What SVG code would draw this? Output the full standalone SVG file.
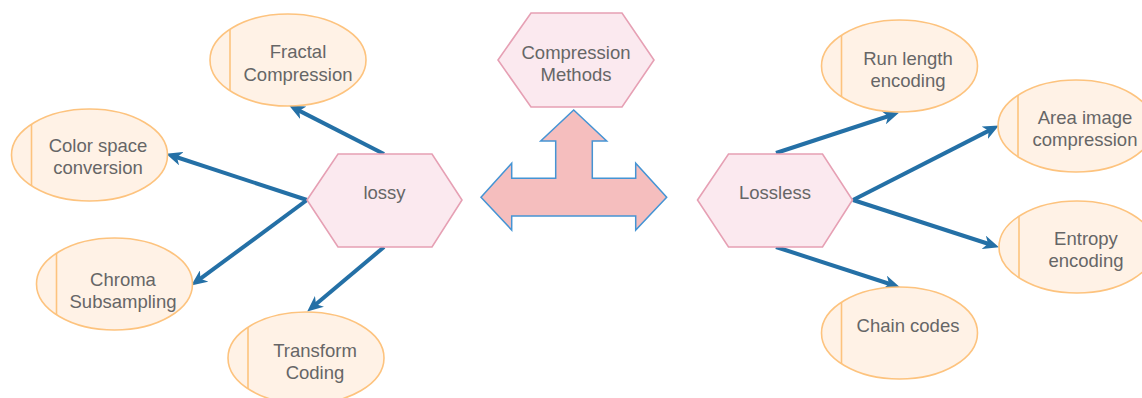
<svg xmlns="http://www.w3.org/2000/svg" width="1142" height="398" viewBox="0 0 1142 398">
<style>
.ell{fill:#FFF2E6;stroke:#FDC37E;stroke-width:1.6}
.chord{stroke:#FDC37E;stroke-width:1.6;fill:none}
.hex{fill:#FBE9EF;stroke:#E6A0B4;stroke-width:1.6}
.t{font-family:"Liberation Sans",Arial,sans-serif;font-size:18.5px;fill:#666666;text-anchor:middle}
.conn{stroke:#2470A6;stroke-width:4;fill:none;marker-end:url(#ah)}
</style>
<defs>
<marker id="ah" markerUnits="userSpaceOnUse" markerWidth="16" markerHeight="14" viewBox="0 0 16 14" refX="7" refY="7" orient="auto">
<path d="M0,0 L16,7 L0,14 L4.5,7 z" fill="#2470A6"/>
</marker>
</defs>
<rect width="1142" height="398" fill="#FFFFFF"/>

<g id="connectors">
<line class="conn" x1="384" y1="154" x2="297.1" y2="109.6"/>
<line class="conn" x1="307" y1="200" x2="174.6" y2="156.5"/>
<line class="conn" x1="307" y1="200" x2="198.4" y2="280.2"/>
<line class="conn" x1="384" y1="247" x2="314.1" y2="305.8"/>
<line class="conn" x1="776" y1="153" x2="890.4" y2="115.5"/>
<line class="conn" x1="853" y1="200" x2="990.9" y2="129.6"/>
<line class="conn" x1="853" y1="200" x2="990.4" y2="244.5"/>
<line class="conn" x1="776" y1="247" x2="891.4" y2="284.5"/>
</g>

<g id="big-arrow">
<path d="M573.7,110 L606.7,141 L592.3,141 L592.3,178.3 L635.7,178.3 L635.7,163.3 L666.7,197.3 L635.7,230 L635.7,216 L511.7,216 L511.7,230 L481,197.3 L511.7,163.3 L511.7,178.3 L555.7,178.3 L555.7,141 L540.7,141 Z" fill="#F5BEBE" stroke="#4594D4" stroke-width="1.5" stroke-linejoin="miter"/>
</g>

<g id="compression-methods">
<polygon class="hex" points="498,60 531,13 622,13 654,60 622,107 531,107"/>
<text class="t" x="576" y="58.5">Compression</text>
<text class="t" x="576" y="80.5">Methods</text>
</g>

<g id="lossy">
<polygon class="hex" points="307,200 338,154 432,154 462,200 432,247 338,247"/>
<text class="t" x="384.5" y="199">lossy</text>
</g>

<g id="lossless">
<polygon class="hex" points="697.5,200 728.5,154 822.5,154 852.5,200 822.5,247 728.5,247"/>
<text class="t" x="775" y="199">Lossless</text>
</g>

<g id="fractal">
<ellipse class="ell" cx="288" cy="60" rx="78" ry="46"/>
<line class="chord" x1="230" y1="29.2" x2="230" y2="90.8"/>
<text class="t" x="298" y="58">Fractal</text>
<text class="t" x="298" y="80.5">Compression</text>
</g>

<g id="color-space">
<ellipse class="ell" cx="89.5" cy="155" rx="78" ry="46"/>
<line class="chord" x1="31.5" y1="124.2" x2="31.5" y2="185.8"/>
<text class="t" x="98" y="152">Color space</text>
<text class="t" x="98" y="174">conversion</text>
</g>

<g id="chroma">
<ellipse class="ell" cx="114.5" cy="284" rx="78" ry="46"/>
<line class="chord" x1="56.5" y1="253.2" x2="56.5" y2="314.8"/>
<text class="t" x="123" y="285.5">Chroma</text>
<text class="t" x="123" y="307.5">Subsampling</text>
</g>

<g id="transform">
<ellipse class="ell" cx="306" cy="358" rx="78" ry="46"/>
<line class="chord" x1="248" y1="327.2" x2="248" y2="388.8"/>
<text class="t" x="315" y="356.5">Transform</text>
<text class="t" x="315" y="378.5">Coding</text>
</g>

<g id="run-length">
<ellipse class="ell" cx="899.5" cy="66" rx="78" ry="46"/>
<line class="chord" x1="841.5" y1="35.2" x2="841.5" y2="96.8"/>
<text class="t" x="908" y="64.5">Run length</text>
<text class="t" x="908" y="87">encoding</text>
</g>

<g id="area-image">
<ellipse class="ell" cx="1076" cy="126" rx="78" ry="46"/>
<line class="chord" x1="1018" y1="95.2" x2="1018" y2="156.8"/>
<text class="t" x="1085" y="123.5">Area image</text>
<text class="t" x="1085" y="146">compression</text>
</g>

<g id="entropy">
<ellipse class="ell" cx="1077" cy="247" rx="78" ry="46"/>
<line class="chord" x1="1019" y1="216.2" x2="1019" y2="277.8"/>
<text class="t" x="1086" y="244.5">Entropy</text>
<text class="t" x="1086" y="266.5">encoding</text>
</g>

<g id="chain-codes">
<ellipse class="ell" cx="899.5" cy="333" rx="78" ry="46"/>
<line class="chord" x1="841.5" y1="302.2" x2="841.5" y2="363.8"/>
<text class="t" x="908" y="331.5">Chain codes</text>
</g>
</svg>
